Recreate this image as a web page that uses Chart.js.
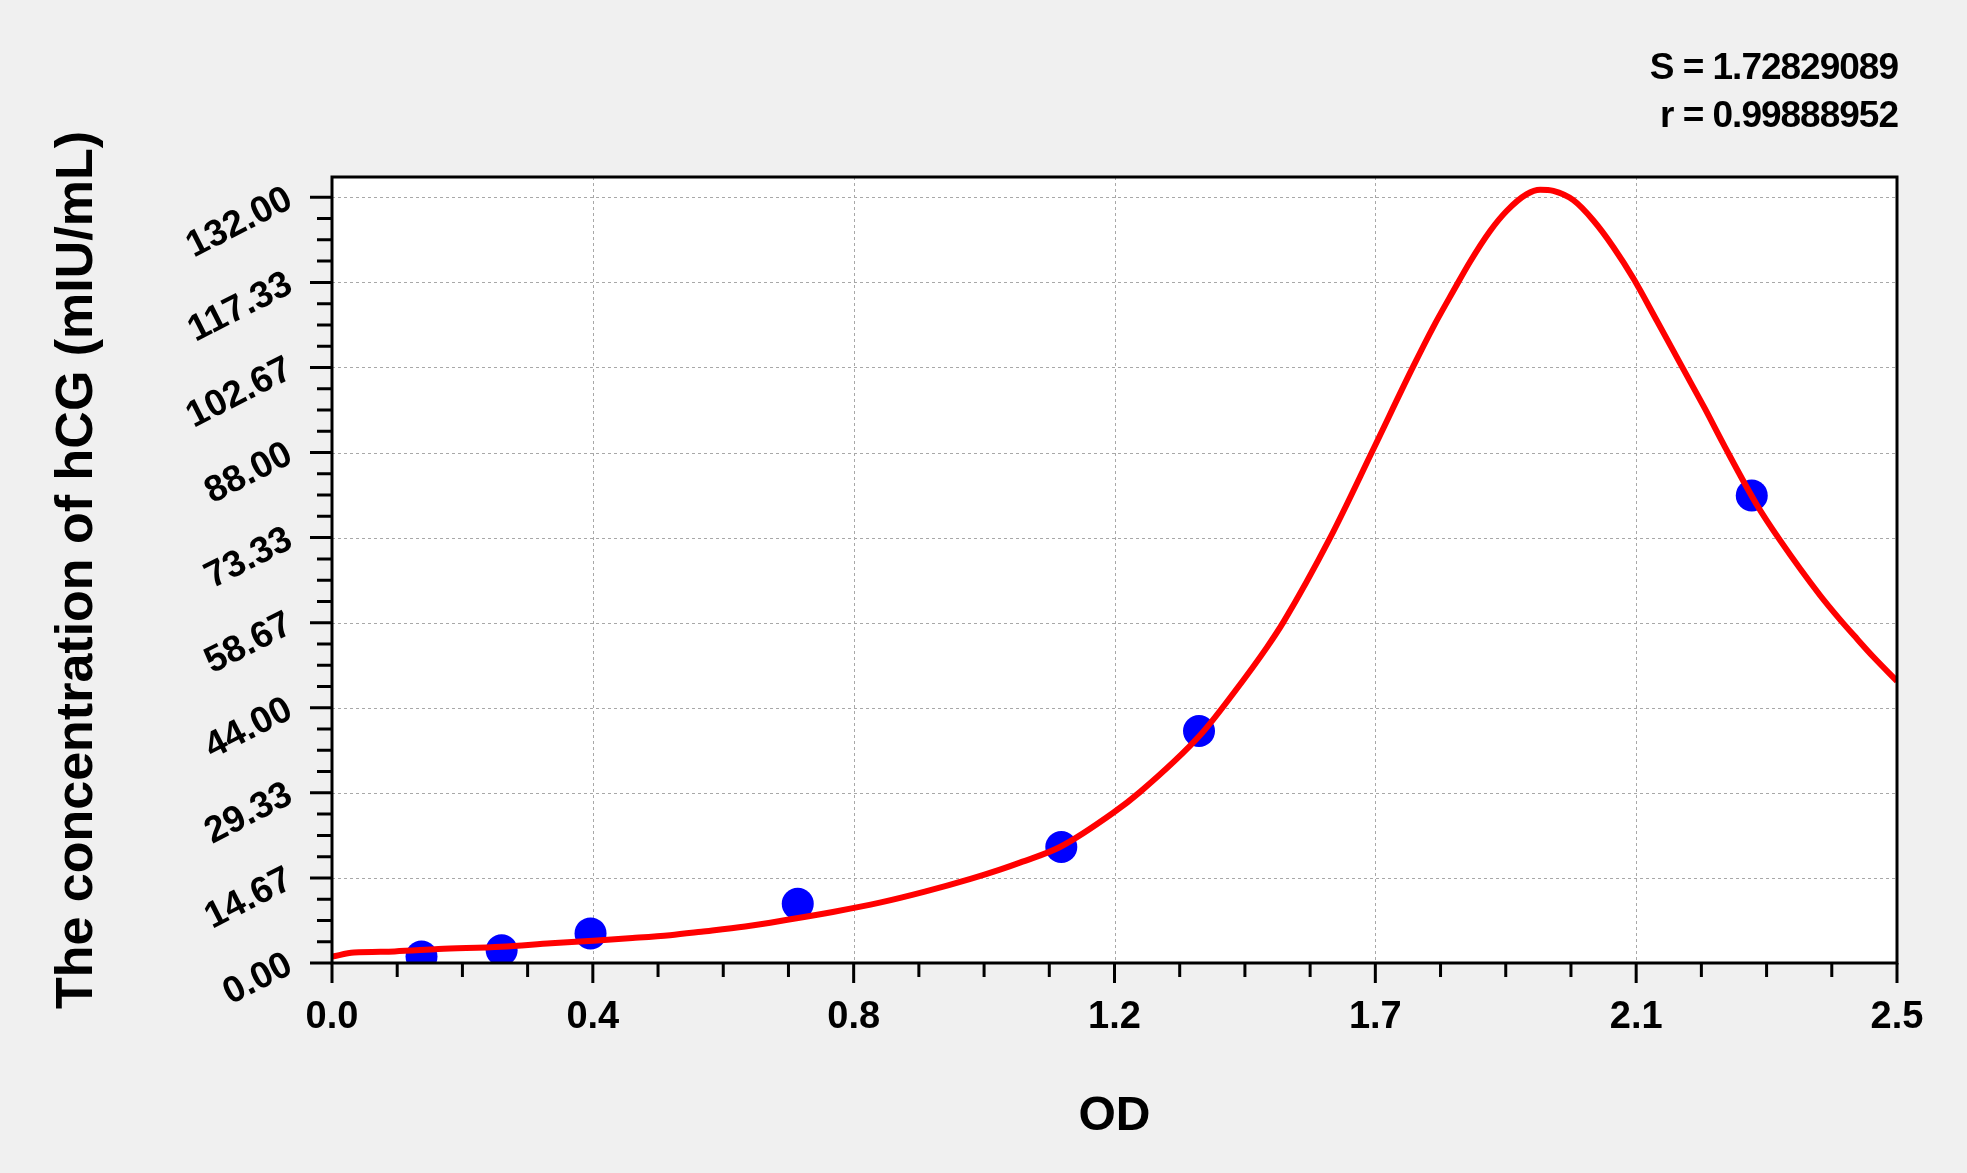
<!DOCTYPE html>
<html>
<head>
<meta charset="utf-8">
<title>hCG standard curve</title>
<script src="https://cdn.jsdelivr.net/npm/chart.js@4.4.1/dist/chart.umd.min.js"></script>
<style>
    body { margin: 0; background: #f0f0f0; }
    canvas { display: block; }
</style>
</head>
<body>
<canvas id="curveChart" width="1967" height="1173"></canvas>
<script>
//! Standards (OD vs concentration)
const odValues = [0.143, 0.271, 0.413, 0.744, 1.165, 1.385, 2.268];
const concValues = [1.1, 2.2, 5.1, 10.2, 20.0, 40.0, 80.6];

//! Fitted curve
const curveOD = [0.000, 0.035, 0.100, 0.170, 0.270, 0.350, 0.410, 0.480, 0.540, 0.590,
    0.660, 0.730, 0.800, 0.875, 0.947, 1.020, 1.067, 1.100, 1.163, 1.248,
    1.291, 1.387, 1.440, 1.494, 1.520, 1.594, 1.664, 1.727, 1.760, 1.791,
    1.818, 1.850, 1.876, 1.908, 1.930, 1.951, 1.983, 2.015, 2.047, 2.079,
    2.116, 2.158, 2.193, 2.223, 2.276, 2.313, 2.377, 2.409, 2.436, 2.462, 2.500];
const curveConc = [1.1, 1.8, 2.0, 2.4, 2.8, 3.4, 3.8, 4.3, 4.8, 5.4,
    6.3, 7.5, 8.8, 10.4, 12.3, 14.5, 16.1, 17.35, 20.0, 25.9,
    29.5, 39.3, 46.5, 54.5, 58.8, 73.2, 88.7, 102.8, 109.8, 115.8,
    120.9, 126.2, 129.6, 132.5, 133.3, 133.1, 131.5, 128.0, 123.4, 118.0,
    110.8, 102.5, 95.6, 89.4, 79.0, 72.9, 63.4, 59.2, 55.9, 52.8, 48.6];

//! Axis ticks
const xTickValues = [0, 0.41667, 0.83333, 1.25, 1.66667, 2.08333, 2.5];
const xTickLabels = ['0.0', '0.4', '0.8', '1.2', '1.7', '2.1', '2.5'];
const yTickValues = [0, 14.667, 29.333, 44, 58.667, 73.333, 88, 102.667, 117.333, 132];
const yTickLabels = ['0.00', '14.67', '29.33', '44.00', '58.67', '73.33', '88.00', '102.67', '117.33', '132.00'];

const statsLines = ['S = 1.72829089', 'r = 0.99888952'];

Chart.defaults.font.family = '"Liberation Sans", Arial, sans-serif';
Chart.defaults.color = '#000';

// frame, dashed grid, major + minor ticks, fit statistics
const framePlugin = {
    id: 'framePlugin',
    beforeDraw(chart) {
        const { ctx, width, height } = chart;
        ctx.save();
        ctx.fillStyle = '#f0f0f0';
        ctx.fillRect(0, 0, width, height);
        ctx.restore();
    },
    beforeDatasetsDraw(chart) {
        const { ctx, chartArea: a, scales: { x, y } } = chart;
        ctx.save();
        ctx.fillStyle = '#fff';
        ctx.fillRect(a.left, a.top, a.width, a.height);
        ctx.strokeStyle = '#a8a8a8';
        ctx.lineWidth = 1;
        ctx.setLineDash([3, 3]);
        ctx.beginPath();
        xTickValues.slice(1, -1).forEach(v => {
            const px = Math.round(x.getPixelForValue(v)) + 0.5;
            ctx.moveTo(px, a.top);
            ctx.lineTo(px, a.bottom);
        });
        yTickValues.slice(1).forEach(v => {
            const py = Math.round(y.getPixelForValue(v)) + 0.5;
            ctx.moveTo(a.left, py);
            ctx.lineTo(a.right, py);
        });
        ctx.stroke();
        ctx.restore();
    },
    afterDraw(chart) {
        const { ctx, chartArea: a, scales: { x, y } } = chart;
        ctx.save();
        ctx.strokeStyle = '#000';
        ctx.lineWidth = 3;
        ctx.beginPath();
        // x ticks
        xTickValues.forEach((v, i) => {
            const px = x.getPixelForValue(v);
            ctx.moveTo(px, a.bottom);
            ctx.lineTo(px, a.bottom + 20);
            if (i < xTickValues.length - 1) {
                const step = (xTickValues[i + 1] - v) / 4;
                for (let k = 1; k < 4; k++) {
                    const mx = x.getPixelForValue(v + step * k);
                    ctx.moveTo(mx, a.bottom);
                    ctx.lineTo(mx, a.bottom + 14);
                }
            }
        });
        // y ticks
        yTickValues.forEach((v, i) => {
            const py = y.getPixelForValue(v);
            ctx.moveTo(a.left - 22, py);
            ctx.lineTo(a.left, py);
            if (i < yTickValues.length - 1) {
                const step = (yTickValues[i + 1] - v) / 4;
                for (let k = 1; k < 4; k++) {
                    const my = y.getPixelForValue(v + step * k);
                    ctx.moveTo(a.left - 15, my);
                    ctx.lineTo(a.left, my);
                }
            }
        });
        ctx.stroke();
        ctx.strokeRect(a.left, a.top, a.width, a.height);

        ctx.fillStyle = '#000';
        ctx.font = 'bold 37px "Liberation Sans", Arial, sans-serif';
        ctx.textAlign = 'right';
        ctx.textBaseline = 'alphabetic';
        if ('letterSpacing' in ctx) ctx.letterSpacing = '-1px';
        ctx.fillText(statsLines[0], 1898, 79);
        ctx.fillText(statsLines[1], 1898, 127);
        ctx.restore();
    }
};

const ctx = document.getElementById('curveChart');

const curveChart = new Chart(ctx, {
    type: 'scatter',
    data: {
        datasets: [
            {
                label: 'fit',
                data: curveOD.map((v, i) => ({ x: v, y: curveConc[i] })),
                showLine: true,
                borderColor: '#ff0000',
                borderWidth: 6,
                pointRadius: 0,
                cubicInterpolationMode: 'monotone',
            },
            {
                label: 'standards',
                data: odValues.map((v, i) => ({ x: v, y: concValues[i] })),
                backgroundColor: '#0000ff',
                borderWidth: 0,
                pointRadius: 16,
            },
        ]
    },
    options: {
        responsive: false,
        animation: false,
        layout: {
            padding: { top: 177, right: 70, left: 0, bottom: 0 }
        },
        plugins: {
            legend: { display: false },
            tooltip: { enabled: false },
        },
        scales: {
            x: {
                type: 'linear',
                min: 0,
                max: 2.5,
                grid: { display: false, drawTicks: false },
                border: { display: false },
                afterBuildTicks: (scale) => {
                    scale.ticks = xTickValues.map(v => ({ value: v }));
                },
                afterFit: (scale) => { scale.height = 210; },
                ticks: {
                    padding: 32,
                    maxRotation: 0,
                    autoSkip: false,
                    font: { size: 38, weight: 'bold' },
                    callback: (value, index) => xTickLabels[index],
                },
                title: {
                    display: true,
                    text: 'OD',
                    font: { size: 48, weight: 'bold' },
                    padding: { bottom: 27 },
                },
            },
            y: {
                type: 'linear',
                min: 0,
                max: 135.5,
                grid: { display: false, drawTicks: false },
                border: { display: false },
                afterBuildTicks: (scale) => {
                    scale.ticks = yTickValues.map(v => ({ value: v }));
                },
                afterFit: (scale) => { scale.width = 332; },
                ticks: {
                    padding: 42,
                    minRotation: 27,
                    maxRotation: 27,
                    autoSkip: false,
                    font: { size: 37, weight: 'bold' },
                    callback: (value, index) => yTickLabels[index],
                },
                title: {
                    display: true,
                    text: 'The concentration of hCG (mIU/mL)',
                    font: { size: 52, weight: 'bold' },
                    padding: { top: 46 },
                },
            },
        }
    },
    plugins: [framePlugin]
});
</script>
</body>
</html>
